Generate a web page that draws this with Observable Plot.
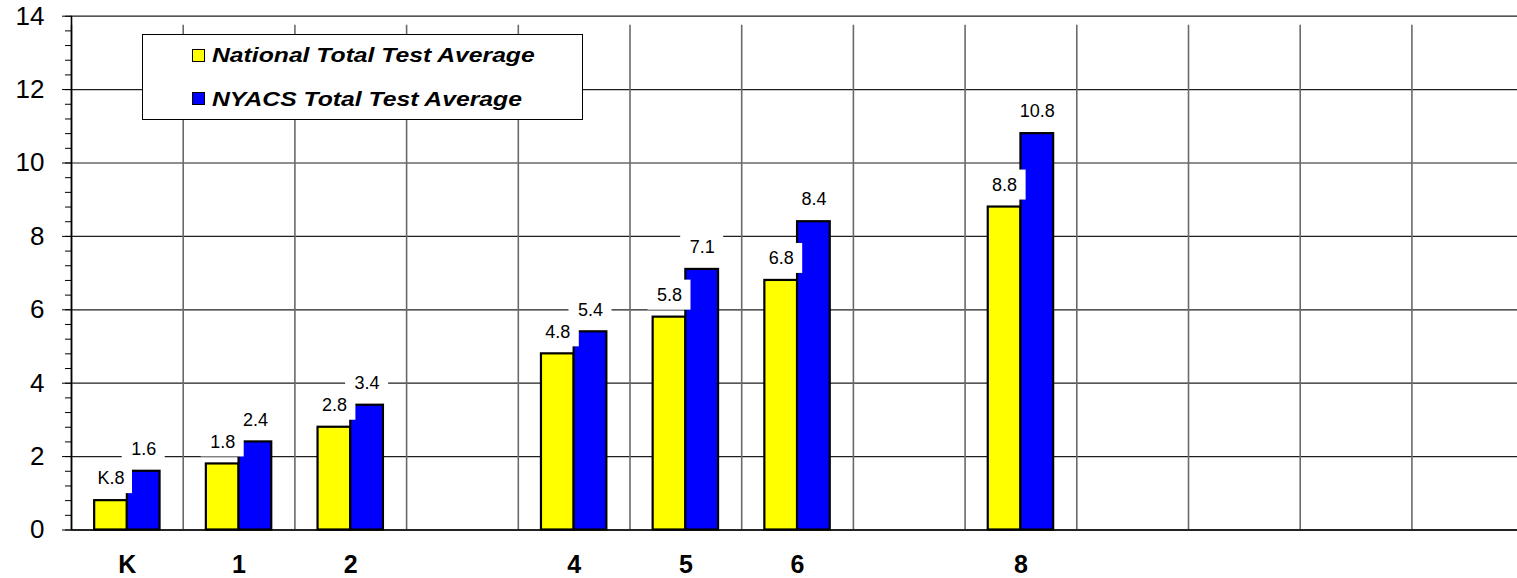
<!DOCTYPE html>
<html><head><meta charset="utf-8">
<script src="https://cdn.jsdelivr.net/npm/d3@7"></script>
<script src="https://cdn.jsdelivr.net/npm/@observablehq/plot@0.6"></script>
<style>
html,body{margin:0;padding:0;background:#fff;overflow:hidden;}
#wrap{position:relative;width:1517px;height:578px;font-family:"Liberation Sans",Arial,sans-serif;}
#legend{position:absolute;left:142px;top:34px;width:441px;height:86px;border:1.3px solid #000;background:#fff;box-sizing:border-box;}
#legend .sw{position:absolute;width:13px;height:13px;border:1.6px solid #000;box-sizing:border-box;}
#legend .tx{position:absolute;font-weight:bold;font-style:italic;font-size:20.6px;line-height:20px;white-space:nowrap;color:#000;transform:scaleX(1.2);transform-origin:0 50%;}
g[aria-label="x-axis tick label"]{font-size:25px;font-weight:bold;}
g[aria-label="y-axis tick label"]{font-size:26px;}
</style></head><body><div id="wrap"></div>
<script>
// category slots on the x axis (one column per grade, incl. empty ones)
const slots = ["K","1","2","3","4","5","6","7","8","9","10","11","12"];
const grades = ["K","1","2","4","5","6","8"];
const national = [0.8, 1.8, 2.8, 4.8, 5.8, 6.8, 8.8];
const nyacs = [1.6, 2.4, 3.4, 5.4, 7.1, 8.4, 10.8];
const nationalLabels = ["K.8","1.8","2.8","4.8","5.8","6.8","8.8"];
const nyacsLabels = ["1.6","2.4","3.4","5.4","7.1","8.4","10.8"];
const seriesNames = ["National Total Test Average","NYACS Total Test Average"];
const seriesColors = ["#ffff00","#0000ff"];
const yTicks = [0,2,4,6,8,10,12,14];

const natData = grades.map((g,i)=>({grade:g, value:national[i], label:nationalLabels[i]}));
const nyData = grades.map((g,i)=>({grade:g, value:nyacs[i], label:nyacsLabels[i]}));
const half = 55.85;

const chart = Plot.plot({
  width: 1517, height: 578,
  marginLeft: 71, marginRight: 0, marginTop: 15.7, marginBottom: 48.5,
  style: {fontFamily: '"Liberation Sans", Arial, sans-serif', fontSize: "18px", background: "white", color: "#000"},
  x: {type: "band", domain: slots, range: [71, 1523.1], padding: 0, round: false, label: null},
  y: {domain: [0, 14], label: null},
  marks: [
    Plot.gridY(yTicks, {stroke: "#1e1e1e", strokeOpacity: 1, strokeWidth: 1.2}),
    Plot.ruleX(slots, {x: d => d, dx: -half, y1: 0, y2: 14, insetBottom: -9, stroke: "#6a6a6a", strokeWidth: 1.6}),
    Plot.barY(natData, {x: "grade", y: "value", fill: seriesColors[0], stroke: "#000", strokeWidth: 2.2, insetLeft: 23.15, insetRight: 55.85}),
    Plot.barY(nyData, {x: "grade", y: "value", fill: seriesColors[1], stroke: "#000", strokeWidth: 2.2, insetLeft: 55.85, insetRight: 23.15}),
    Plot.barY(natData, {x: "grade", y1: "value", y2: "value", insetTop: -37, insetBottom: 7, insetLeft: 18, insetRight: 50.7, fill: "white"}),
    Plot.barY(nyData, {x: "grade", y1: "value", y2: "value", insetTop: -37, insetBottom: 7, insetLeft: 50.7, insetRight: 18, fill: "white"}),
    Plot.text(natData, {x: "grade", y: "value", text: "label", dx: -16.35, dy: -22, fontSize: 18, fill: "#000"}),
    Plot.text(nyData, {x: "grade", y: "value", text: "label", dx: 16.35, dy: -22, fontSize: 18, fill: "#000"}),
    Plot.ruleY([0], {stroke: "#000", strokeWidth: 1.6}),
    Plot.ruleX([slots[0]], {x: d => d, dx: -half, y1: 0, y2: 14, stroke: "#000", strokeWidth: 1.6}),
    Plot.axisY({ticks: yTicks, tickSize: 9, tickPadding: 18, fontSize: 26, stroke: "#000", fill: "#000"}),
    Plot.axisY({interval: 0.4, tickSize: 6, fill: "none", stroke: "#000"}),
    Plot.axisX({ticks: grades, tickSize: 0, tickPadding: 25.7, fontSize: 25, fontWeight: "bold", fill: "#000"})
  ]
});
const wrap = document.getElementById("wrap");
wrap.appendChild(chart);

// legend box inside the plot area
const legend = document.createElement("div");
legend.id = "legend";
const swTops = [14, 57];
const txTops = [10.2, 53.6];
seriesNames.forEach((name, i) => {
  const sw = document.createElement("div");
  sw.className = "sw";
  sw.style.left = "49px";
  sw.style.top = swTops[i] + "px";
  sw.style.background = seriesColors[i];
  legend.appendChild(sw);
  const tx = document.createElement("div");
  tx.className = "tx";
  tx.style.left = "69px";
  tx.style.top = txTops[i] + "px";
  tx.textContent = name;
  legend.appendChild(tx);
});
wrap.appendChild(legend);
</script>
</body></html>
